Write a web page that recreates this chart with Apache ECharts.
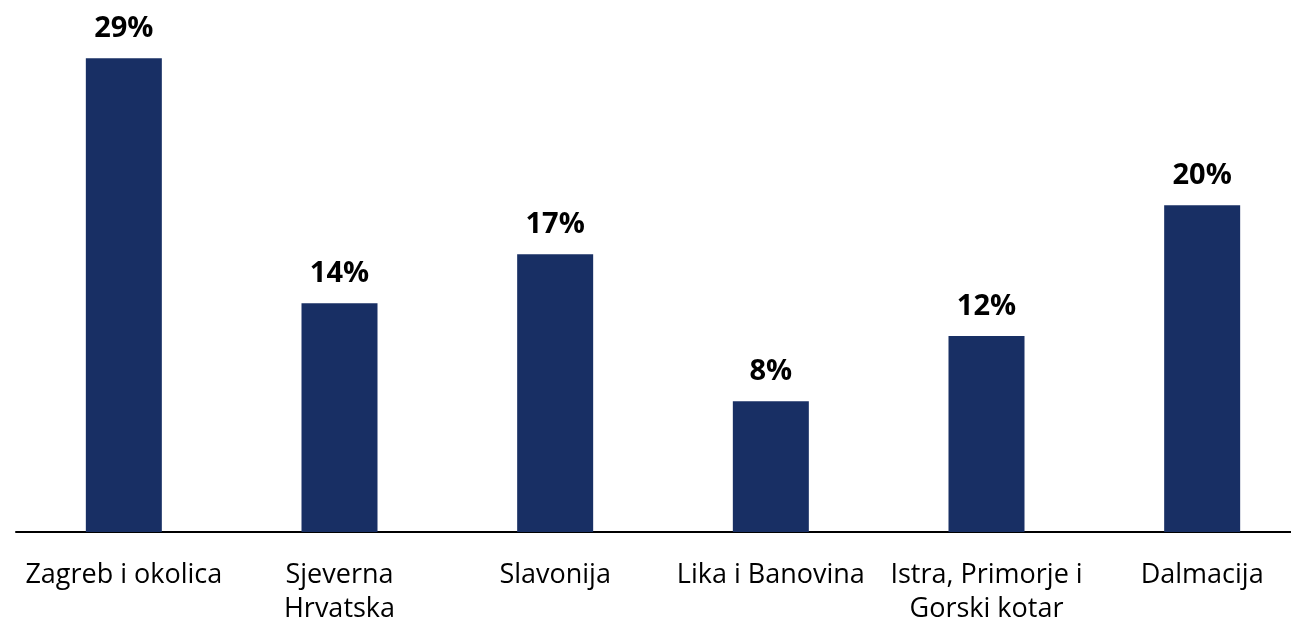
<!DOCTYPE html>
<html>
<head>
<meta charset="utf-8">
<script src="https://cdn.jsdelivr.net/npm/echarts@6/dist/echarts.min.js"></script>
<style>html,body{margin:0;padding:0;background:#fff;}#c{width:1291px;height:626px;}</style>
</head>
<body>
<div id="c"></div>
<script>
const categories = ["Zagreb i okolica", "Sjeverna\nHrvatska", "Slavonija", "Lika i Banovina", "Istra, Primorje i\nGorski kotar", "Dalmacija"];
const values = [29, 14, 17, 8, 12, 20];

const chart = echarts.init(document.getElementById('c'), null, {renderer: 'canvas'});
chart.setOption({
  animation: false,
  backgroundColor: '#ffffff',
  grid: {left: 16, top: 42, right: -19, height: 490, containLabel: false, outerBoundsMode: 'none'},
  xAxis: {
    type: 'category',
    data: categories,
    axisLine: {show: true, lineStyle: {color: '#000000', width: 2}},
    axisTick: {show: false},
    axisLabel: {interval: 0, margin: 26, color: '#000000', fontFamily: 'Open Sans', fontSize: 27, lineHeight: 34}
  },
  yAxis: {
    type: 'value', min: 0, max: 30,
    show: false,
    splitLine: {show: false}
  },
  series: [{
    type: 'bar',
    data: values,
    barWidth: 76,
    itemStyle: {color: '#182f64'},
    label: {
      show: true, position: 'top', distance: 15,
      formatter: '{c}%',
      color: '#000000', fontFamily: 'Open Sans', fontWeight: 'bold', fontSize: 29
    }
  }]
});
</script>
</body>
</html>
